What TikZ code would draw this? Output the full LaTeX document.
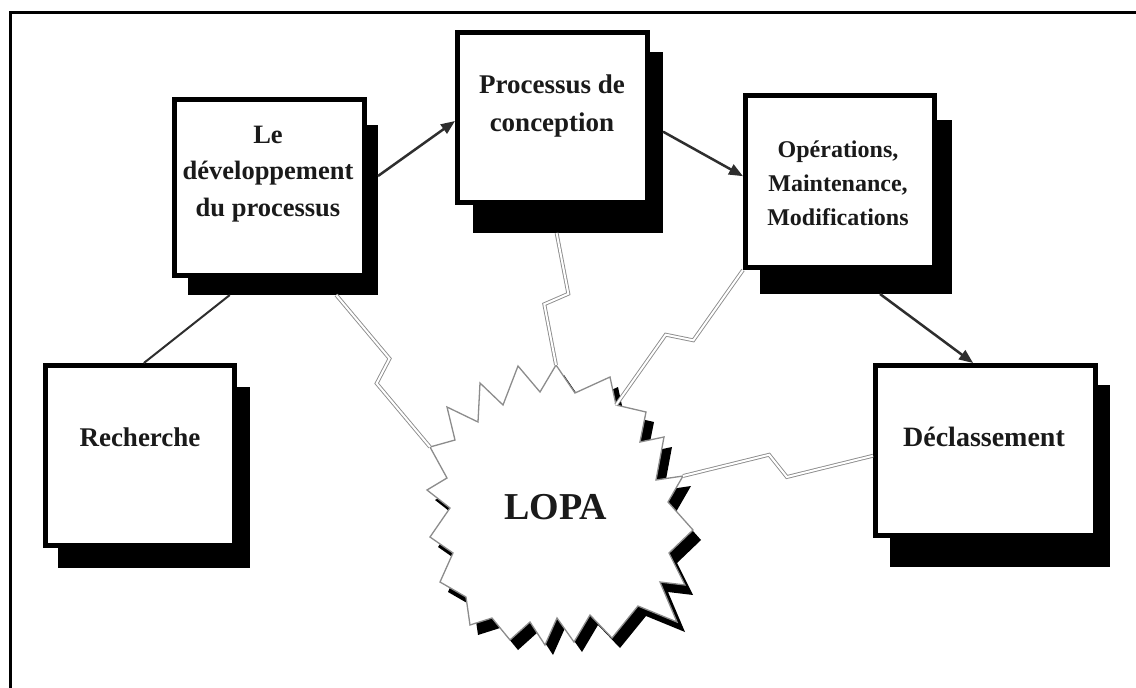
\documentclass[tikz,border=0pt]{standalone}
\usepackage{fontspec}
\setmainfont{Liberation Serif}
\usetikzlibrary{calc,arrows.meta}

\definecolor{ink}{HTML}{1A1A1A}
\definecolor{linkgray}{HTML}{2E2E2E}
\definecolor{zapgray}{HTML}{8C8C8C}

\begin{document}
\begin{tikzpicture}[x=1pt,y=-1pt,
  frontbox/.style={draw=black, fill=white, line width=5pt, inner sep=0pt},
  shadowbox/.style={fill=black, draw=none, inner sep=0pt, outer sep=0pt},
  boxlabel/.style={text=ink, align=center, inner sep=0pt, font=\bfseries},
  flow/.style={draw=linkgray, line width=2.5pt, -{Triangle[length=14pt,width=11pt]}},
  plainlink/.style={draw=linkgray, line width=2pt},
  zap/.style={draw=zapgray, line width=0.9pt, double=white, double distance=2pt, line join=miter,
    to path={-- ($(\tikztostart)!.46!(\tikztotarget)!12pt!90:(\tikztotarget)$)
             -- ($(\tikztostart)!.54!(\tikztotarget)!12pt!-90:(\tikztotarget)$)
             -- (\tikztotarget)}},
]
\useasboundingbox (0,0) rectangle (1136,688);
\fill[white] (0,0) rectangle (1136,688);

% frame
\draw[line width=3pt] (10,688) -- (10,12) -- (1136,12);

% drop shadows of the stage boxes
\node[shadowbox, minimum width=192pt, minimum height=181pt] (rech-s) at (154,477.5) {};
\node[shadowbox, minimum width=190pt, minimum height=170pt] (dev-s)  at (283,210) {};
\node[shadowbox, minimum width=190pt, minimum height=181pt] (proc-s) at (568,142.5) {};
\node[shadowbox, minimum width=192pt, minimum height=174pt] (ops-s)  at (856,207) {};
\node[shadowbox, minimum width=220pt, minimum height=182pt] (decl-s) at (1000,476) {};

% stage boxes
\node[frontbox, minimum width=189pt, minimum height=180pt] (rech) at (140,455.5) {};
\node[frontbox, minimum width=190pt, minimum height=176pt] (dev)  at (269.5,187.5) {};
\node[frontbox, minimum width=190pt, minimum height=170pt] (proc) at (552.5,117.5) {};
\node[frontbox, minimum width=189pt, minimum height=172pt] (ops)  at (840,181.5) {};
\node[frontbox, minimum width=220pt, minimum height=170pt] (decl) at (985.5,450.5) {};

% stage labels
\node[boxlabel, font=\bfseries\fontsize{27}{36}\selectfont] (rech-t) at (140,437) {Recherche};
\node[boxlabel, font=\bfseries\fontsize{28}{36}\selectfont] (decl-t) at (984,437) {Déclassement};
\node[boxlabel, font=\bfseries\fontsize{26.5}{36.5}\selectfont] (dev-t) at (268,174) {Le\\développement\\du processus};
\node[boxlabel, font=\bfseries\fontsize{27}{38}\selectfont] (proc-t) at (552,106) {Processus de\\conception};
\node[boxlabel, font=\bfseries\fontsize{24}{34}\selectfont] (ops-t) at (838,183) {Opérations,\\Maintenance,\\Modifications};

% lifecycle links
\draw[flow] ($(dev-s.north east)!.3!(dev-s.south east)$) -- ($(proc.north west)!.52!(proc.south west)$);
\draw[flow] ($(proc-s.north east)!.44!(proc-s.south east)$) -- ($(ops.north west)!.47!(ops.south west)$);
\draw[flow] ($(ops-s.south west)!.625!(ops-s.south east)$) -- ($(decl.north west)!.445!(decl.north east)$);
\draw[plainlink] ($(dev-s.south west)!.22!(dev-s.south east)$) -- ($(rech.north west)!.52!(rech.north east)$);

% starburst: black shadow, then white face
\begin{scope}[shift={(8,10)}]
\fill[black] (447,407) -- (478,422) -- (480,383) -- (503,405) -- (518,366) -- (540,392)
  -- (556,365) -- (575,393) -- (610,377) -- (616,405) -- (646,412) -- (640,442)
  -- (664,437) -- (656,480) -- (683,476) -- (668,502) -- (693,530) -- (669,553)
  -- (685,585) -- (660,582) -- (677,622) -- (638,606) -- (612,638) -- (590,615)
  -- (574,642) -- (557,618) -- (545,645) -- (530,622) -- (510,640) -- (492,618)
  -- (470,625) -- (466,597) -- (440,582) -- (453,553) -- (430,537) -- (450,508)
  -- (427,490) -- (447,478) -- (430,447) -- (455,440) -- cycle;
\end{scope}
\draw[draw=zapgray, line width=1.3pt, fill=white, line join=miter]
  (447,407) -- (478,422) -- (480,383) -- (503,405) -- (518,366) -- (540,392)
  -- (556,365) coordinate (s7) -- (575,393) -- (610,377) -- (616,405) coordinate (s10)
  -- (646,412) -- (640,442)
  -- (664,437) -- (656,480) -- (683,476) coordinate (s15) -- (668,502) -- (693,530) -- (669,553)
  -- (685,585) -- (660,582) -- (677,622) -- (638,606) -- (612,638) -- (590,615)
  -- (574,642) -- (557,618) -- (545,645) -- (530,622) -- (510,640) -- (492,618)
  -- (470,625) -- (466,597) -- (440,582) -- (453,553) -- (430,537) -- (450,508)
  -- (427,490) -- (447,478) -- (430,447) coordinate (s39) -- (455,440) -- cycle;

\node[boxlabel, font=\bfseries\fontsize{38}{40}\selectfont] (lopa) at (556,507) {LOPA};

% lightning links from each stage to LOPA
\coordinate (z-dev)  at ($(dev-s.south west)!.78!(dev-s.south east)$);
\coordinate (z-proc) at ($(proc-s.south west)!.44!(proc-s.south east)$);
\coordinate (z-ops)  at (ops.south west);
\coordinate (z-decl) at ($(decl.north west)!.53!(decl.south west)$);
\draw[zap] (z-dev) to (s39);
\draw[zap] (z-proc) to (s7);
\draw[zap] (z-ops) to (s10);
\draw[zap] (z-decl) to (s15);
\end{tikzpicture}
\end{document}
